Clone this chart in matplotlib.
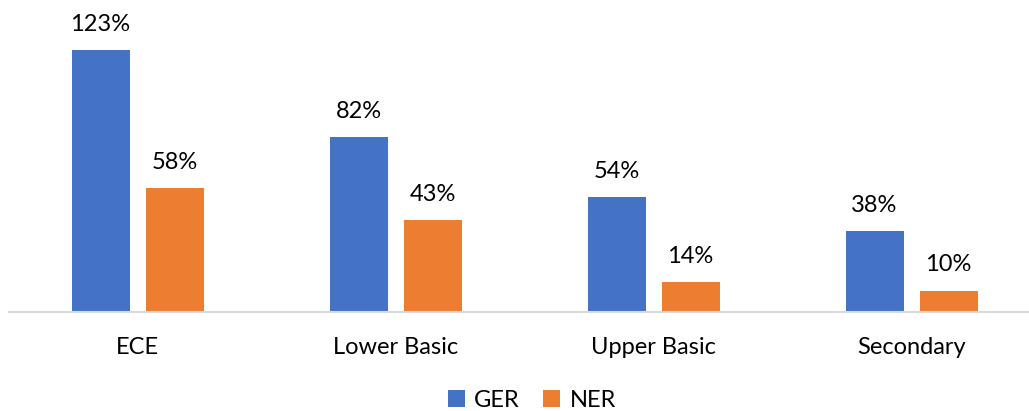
import matplotlib
matplotlib.use("Agg")
import matplotlib.pyplot as plt
import numpy as np

categories = ["ECE", "Lower Basic", "Upper Basic", "Secondary"]
ger = [123, 82, 54, 38]
ner = [58, 43, 14, 10]
series_names = ["GER", "NER"]
colors = ["#4472C4", "#ED7D31"]

plt.rcParams["font.family"] = ["Lato", "DejaVu Sans"]

W, H = 1029, 411
fig = plt.figure(figsize=(W / 100, H / 100), dpi=100)

# axes placed in pixel terms: baseline at y=312, category band 258 px wide
left_px, base_px, band = 8.5, 312, 258
px_per_pct = 2.13
ymax = 140
ax = fig.add_axes([left_px / W, 1 - base_px / H, 4 * band / W, ymax * px_per_pct / H])

x = np.arange(len(categories))
bw = 58 / band
gap = 16 / band
off = (bw + gap) / 2
b1 = ax.bar(x - off, ger, bw, color=colors[0], label=series_names[0])
b2 = ax.bar(x + off, ner, bw, color=colors[1], label=series_names[1])

fs = 17
for bars, vals in ((b1, ger), (b2, ner)):
    for rect, v in zip(bars, vals):
        ax.annotate(f"{v}%", (rect.get_x() + rect.get_width() / 2, v),
                    xytext=(0, 11), textcoords="offset points",
                    ha="center", va="bottom", fontsize=fs, color="#000000")

ax.set_xlim(-0.5, len(categories) - 0.5)
ax.set_ylim(0, ymax)
ax.set_xticks(x)
ax.set_xticklabels(categories, fontsize=fs)
ax.tick_params(axis="x", length=0, pad=18)
ax.set_yticks([])
for s in ("top", "right", "left"):
    ax.spines[s].set_visible(False)
ax.spines["bottom"].set_color("#D9D9D9")
ax.spines["bottom"].set_linewidth(1.5)
ax.patch.set_alpha(0)

fig.legend(handles=[b1, b2], labels=series_names, loc="center",
           bbox_to_anchor=(532 / W, 1 - 400 / H), ncol=2, frameon=False,
           fontsize=fs, handlelength=0.7, handleheight=0.7,
           handletextpad=0.4, columnspacing=1.0, borderpad=0.1)

fig.savefig("out.png", dpi=100)
